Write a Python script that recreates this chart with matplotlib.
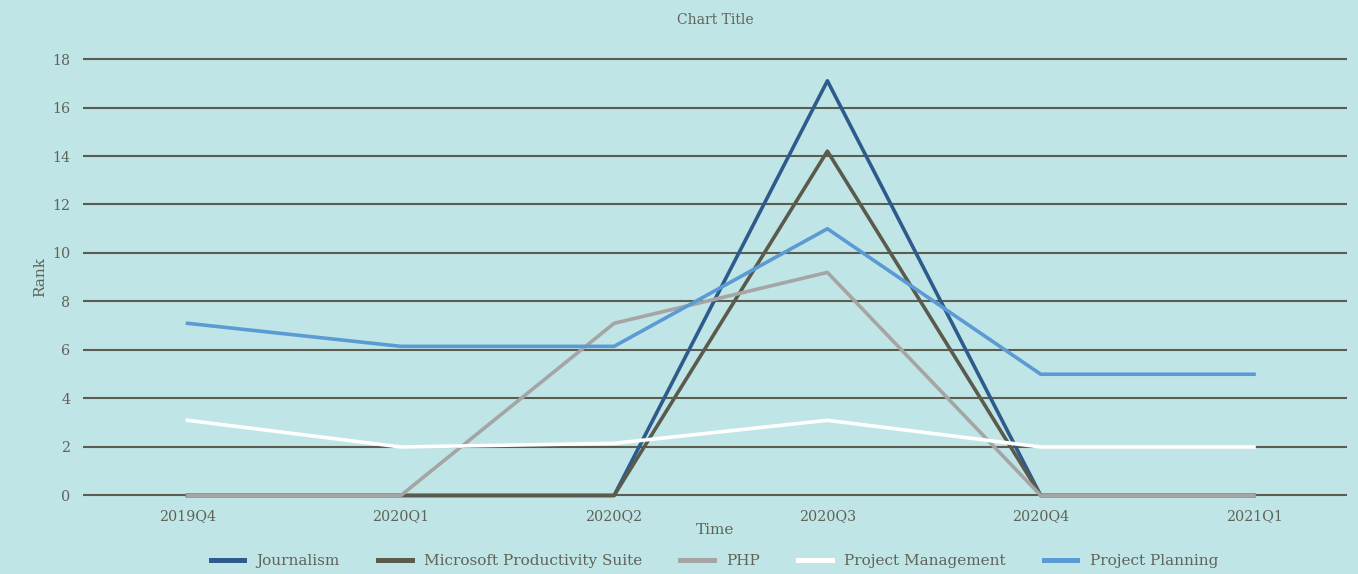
import matplotlib
matplotlib.use('Agg')

import matplotlib.pyplot as plt
import numpy as np

# 数据
quarters = ['2019Q4', '2020Q1', '2020Q2', '2020Q3', '2020Q4', '2021Q1']
journalism = [0, 0, 0, 17.1, 0, 0]
ms_suite = [0, 0, 0, 14.2, 0, 0]
php = [0, 0, 7.1, 9.2, 0, 0]
proj_mgmt = [3.1, 2.0, 2.15, 3.1, 2.0, 2.0]
proj_plan = [7.1, 6.15, 6.15, 11.0, 5.0, 5.0]

series_names = ['Journalism', 'Microsoft Productivity Suite', 'PHP',
                'Project Management', 'Project Planning']
series_vals = [journalism, ms_suite, php, proj_mgmt, proj_plan]
series_colors = ['#2E5B8C', '#5A5B4C', '#A5A5A5', '#FFFFFF', '#5B9BD5']

BG = '#C0E5E6'
GRID = '#5A5D50'
TXT = '#5F6358'

plt.rcParams['font.family'] = ['DejaVu Serif']

fig = plt.figure(figsize=(13.58, 5.74), dpi=100, facecolor=BG)
ax = fig.add_axes([0.0611, 0.1368, 0.9308, 0.7604])
ax.set_facecolor(BG)

yticks = np.arange(0, 19, 2)
# 横向网格线（不裁剪，首尾两条完整显示）
ax.hlines(yticks, -0.49, 5.436, colors=GRID, lw=1.5, zorder=0, clip_on=False)

x = np.arange(len(quarters))
for name, vals, col in zip(series_names, series_vals, series_colors):
    ax.plot(x, vals, color=col, lw=2.6, label=name, clip_on=False, zorder=2)

ax.set_xlim(-0.49, 5.436)
ax.set_ylim(0, 18)
ax.set_yticks(yticks)
ax.set_xticks(x)
ax.set_xticklabels(quarters)

for s in ax.spines.values():
    s.set_visible(False)
ax.tick_params(length=0, colors=TXT, labelsize=10.3)
ax.tick_params(axis='y', pad=9)
ax.tick_params(axis='x', pad=10)

ax.set_title('Chart Title', color=TXT, fontsize=10, pad=25.5)
ax.set_xlabel('Time', color=TXT, fontsize=11, labelpad=0)
ax.set_ylabel('Rank', color=TXT, fontsize=11, labelpad=4)

handles, labels = ax.get_legend_handles_labels()
leg = fig.legend(handles, labels, loc='center', bbox_to_anchor=(0.526, 0.022),
                 ncol=5, frameon=False, fontsize=11, labelcolor=TXT,
                 handlelength=2.2, handletextpad=0.8, columnspacing=2.5)
for h in leg.legend_handles:
    h.set_linewidth(3.6)

plt.savefig('out.png', dpi=100, facecolor=BG)
plt.close(fig)
